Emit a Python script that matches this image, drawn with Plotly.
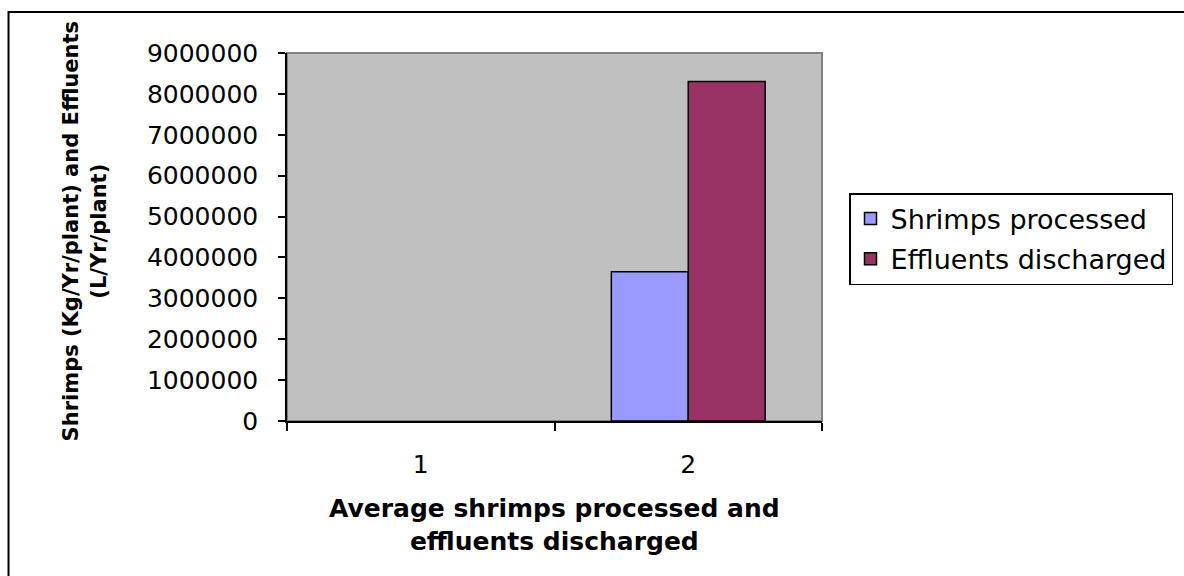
import plotly.graph_objects as go

categories = ["1", "2"]
shrimps_processed = [0, 3650000]
effluents_discharged = [0, 8300000]
y_ticks = [0, 1000000, 2000000, 3000000, 4000000, 5000000, 6000000, 7000000, 8000000, 9000000]
y_tick_labels = [str(v) for v in y_ticks]

FONT = "DejaVu Sans, Arial, sans-serif"

# Excel draws nothing for zero-height bars; hide them instead of a stroked line
def visible_bars(vals):
    return [v if v else None for v in vals]

fig = go.Figure()
fig.add_trace(go.Bar(x=categories, y=visible_bars(shrimps_processed), name="Shrimps processed",
                     legendgroup="a",
                     marker=dict(color="#9999FF", line=dict(color="black", width=1.5))))
fig.add_trace(go.Bar(x=categories, y=visible_bars(effluents_discharged), name="Effluents discharged",
                     legendgroup="b",
                     marker=dict(color="#993366", line=dict(color="black", width=1.5))))

L, R, T, B = 287, 1184 - 823, 53, 576 - 421
W, H = 1184 - L - R, 576 - T - B

def px(xp):
    return (xp - L) / W

def py(yp):
    return 1 - (yp - T) / H

fig.update_layout(
    width=1184, height=576,
    margin=dict(l=L, r=R, t=T, b=B, pad=0),
    paper_bgcolor="white", plot_bgcolor="#C0C0C0",
    barmode="group", bargap=0.425, bargroupgap=0,
    font=dict(family=FONT, size=25, color="black"),
    showlegend=True,
    legend=dict(x=px(849), y=py(193), xanchor="left", yanchor="top",
                bordercolor="black", borderwidth=1.5, bgcolor="white",
                font=dict(family=FONT, size=27, color="black"),
                itemwidth=30, tracegroupgap=2, traceorder="grouped"),
    xaxis=dict(type="category", showline=True, linecolor="black", linewidth=1.5,
               ticks="outside", tickson="boundaries", ticklen=8, tickcolor="black",
               tickwidth=1.5, showgrid=False, zeroline=False,
               tickfont=dict(family=FONT, size=25), ticklabelstandoff=20),
    yaxis=dict(range=[0, 9000000], tickvals=y_ticks, ticktext=y_tick_labels,
               showline=True, linecolor="black", linewidth=1.5,
               ticks="outside", ticklen=7, tickcolor="black", tickwidth=1.5,
               showgrid=False, zeroline=False,
               tickfont=dict(family=FONT, size=25), ticklabelstandoff=15),
)

# gray plot-area border
fig.add_shape(type="rect", xref="paper", yref="paper", x0=0, x1=1, y0=0, y1=1,
              line=dict(color="#808080", width=2), layer="below")
# outer chart frame (extends beyond page on right/bottom)
fig.add_shape(type="rect", xref="paper", yref="paper",
              x0=px(8), y0=py(650), x1=px(1260), y1=py(12),
              line=dict(color="black", width=2))

fig.add_annotation(text="<b>Shrimps (Kg/Yr/plant) and Effluents<br>(L/Yr/plant)</b>",
                   xref="paper", yref="paper", x=px(84), y=py(231),
                   textangle=-90, showarrow=False, xanchor="center", yanchor="middle",
                   font=dict(family=FONT, size=21, color="black"))
fig.add_annotation(text="<b>Average shrimps processed and<br>effluents discharged</b>",
                   xref="paper", yref="paper", x=px(555), y=py(525),
                   showarrow=False, xanchor="center", yanchor="middle",
                   font=dict(family=FONT, size=25, color="black"))

fig.write_html("out.html")
